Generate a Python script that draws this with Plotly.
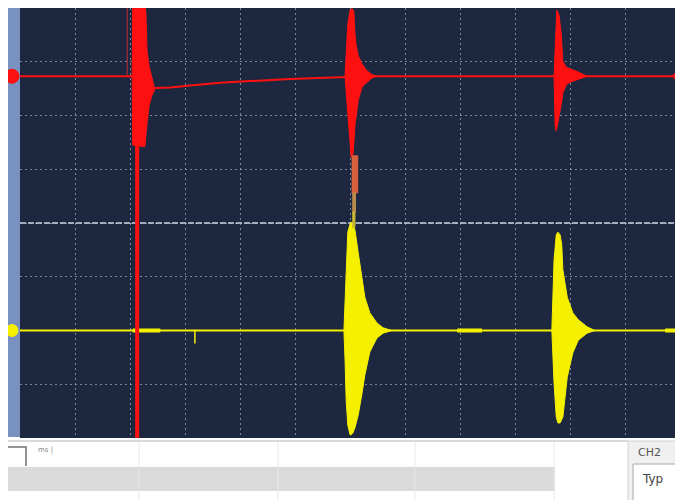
import plotly.graph_objects as go

# ---------------- canvas / layout geometry ----------------
# the page adds an 8 px body margin, so the figure starts at page (8, 8)
PAGE_OFF = 8
W, H = 683 - PAGE_OFF, 500 - PAGE_OFF
ML, MR, MT, MB = 12, 0, 0, 62
PLOT_W = W - ML - MR          # 663 px
PLOT_H = H - MT - MB          # 430 px
X_RANGE = [0, PLOT_W / 55.0]  # 55 px per horizontal division
Y_RANGE = [-4, 4]             # 8 vertical divisions

# ---------------- data (in screen divisions) ----------------
# CH1 (red) baseline with slow recovery after the first event
ch1_line_x = [-0.1, 2.04, 2.45, 2.73, 3.09, 3.64, 4.18, 4.91, 5.82, 6.47, 9.71, 10.33, 11.91]
ch1_line_y = [2.73, 2.73, 2.51, 2.52, 2.56, 2.61, 2.64, 2.68, 2.71, 2.73, 2.73, 2.73, 2.73]

# CH1 burst envelopes
r1_x  = [2.04, 2.05, 2.27, 2.29, 2.31, 2.35, 2.40, 2.45]
r1_up = [2.73, 4.10, 4.10, 3.90, 3.20, 2.90, 2.70, 2.52]
r1_lo = [2.73, 1.45, 1.42, 1.55, 1.85, 2.20, 2.38, 2.48]

r2_x  = [5.91, 5.93, 5.96, 6.00, 6.02, 6.05, 6.07, 6.09, 6.11, 6.15, 6.22, 6.29, 6.40, 6.49]
r2_up = [2.73, 3.22, 3.70, 3.96, 3.98, 3.98, 3.93, 3.52, 3.31, 3.11, 2.96, 2.85, 2.76, 2.73]
r2_lo = [2.73, 2.38, 2.01, 1.49, 1.23, 1.23, 1.49, 1.82, 2.01, 2.29, 2.53, 2.60, 2.70, 2.73]

r3_x  = [9.71, 9.73, 9.75, 9.76, 9.80, 9.84, 9.87, 9.93, 10.00, 10.15, 10.31]
r3_up = [2.73, 3.31, 3.78, 3.96, 3.87, 3.52, 3.01, 2.90, 2.87, 2.81, 2.73]
r3_lo = [2.73, 1.80, 1.71, 1.82, 2.01, 2.20, 2.42, 2.57, 2.62, 2.68, 2.73]

# full-scale CH1 spike and faint pre-trigger line
spike_x = [2.13, 2.13]
spike_y = [4.1, -4.1]
pre_x = [1.95, 1.95]
pre_y = [4.1, 2.73]

# overlap band under the 2nd CH1 burst (x0, x1, top, bottom, colour)
ovl_x0 = [6.03, 6.04, 6.04]
ovl_x1 = [6.14, 6.10, 6.09]
ovl_top = [1.25, 0.56, 0.20]
ovl_bot = [0.56, 0.20, -0.08]
ovl_col = ["#d8603c", "#b98a4a", "#c9b832"]

# CH2 (yellow) baseline
ch2_line_x = [-0.1, 11.91]
ch2_line_y = [-2.0, -2.0]
ch2_thick_x0 = [2.05, 7.95, 11.73]
ch2_thick_x1 = [2.55, 8.40, 11.91]
ch2_glitch_x = [3.18, 3.18]
ch2_glitch_y = [-2.0, -2.24]

# CH2 burst envelopes
y1_x  = [5.89, 5.91, 5.93, 5.96, 6.00, 6.02, 6.05, 6.09, 6.15, 6.22, 6.27, 6.36, 6.49, 6.60, 6.76]
y1_up = [-2.0, -1.43, -0.69, -0.17, -0.02, 0.02, -0.02, -0.13, -0.56, -1.00, -1.38, -1.67, -1.86, -1.95, -2.0]
y1_lo = [-2.0, -2.55, -3.29, -3.76, -3.94, -3.94, -3.91, -3.81, -3.57, -3.16, -2.83, -2.40, -2.14, -2.05, -2.0]

y2_x  = [9.67, 9.69, 9.71, 9.75, 9.78, 9.82, 9.85, 9.87, 9.95, 10.05, 10.15, 10.31, 10.45]
y2_up = [-2.0, -1.43, -0.69, -0.22, -0.17, -0.22, -0.41, -0.87, -1.38, -1.67, -1.80, -1.93, -2.0]
y2_lo = [-2.0, -2.55, -2.98, -3.61, -3.72, -3.72, -3.67, -3.61, -2.87, -2.42, -2.18, -2.05, -2.0]

# channel markers (vertical position of each channel's ground marker)
marker_y = [2.73, -2.0]
marker_col = ["#ff1010", "#f4f000"]

RED = "#ff1010"
YEL = "#f4f000"

fig = go.Figure()


def add_line(x, y, color, width):
    fig.add_trace(go.Scatter(x=x, y=y, mode="lines", line=dict(color=color, width=width),
                             hoverinfo="skip", showlegend=False))


def add_burst(x, up, lo, color):
    fig.add_trace(go.Scatter(x=list(x) + list(x)[::-1], y=list(up) + list(lo)[::-1],
                             mode="lines", fill="toself", fillcolor=color,
                             line=dict(color=color, width=1),
                             hoverinfo="skip", showlegend=False))


# ---- CH2 (yellow) ----
add_line(ch2_line_x, ch2_line_y, YEL, 2)
for a, b in zip(ch2_thick_x0, ch2_thick_x1):
    add_line([a, b], [ch2_line_y[0], ch2_line_y[0]], YEL, 4)
add_line(ch2_glitch_x, ch2_glitch_y, YEL, 1.5)
add_burst(y1_x, y1_up, y1_lo, YEL)
add_burst(y2_x, y2_up, y2_lo, YEL)

# ---- CH1 (red) ----
add_line(ch1_line_x, ch1_line_y, RED, 2)
add_line(pre_x, pre_y, "rgba(255,40,40,0.7)", 1)
add_line(spike_x, spike_y, RED, 4)
add_burst(r1_x, r1_up, r1_lo, RED)
add_burst(r2_x, r2_up, r2_lo, RED)
add_burst(r3_x, r3_up, r3_lo, RED)
for x0, x1, t, b, c in zip(ovl_x0, ovl_x1, ovl_top, ovl_bot, ovl_col):
    add_burst([x0, x1], [t, t], [b, b], c)

# end arrow of CH1
fig.add_trace(go.Scatter(x=[ch1_line_x[-1]], y=[ch1_line_y[-1]], mode="markers",
                         marker=dict(symbol="triangle-right", size=6, color=RED),
                         hoverinfo="skip", showlegend=False))


# page pixel -> paper coordinates (plot area spans page x 20..683, y 8..438)
def px(p):
    return (p - 20) / PLOT_W


def py(p):
    return (438 - p) / PLOT_H


DIV_PX = PLOT_H / (Y_RANGE[1] - Y_RANGE[0])

shapes = [
    # centre horizontal graticule line
    dict(type="line", xref="x", yref="y", x0=X_RANGE[0], x1=X_RANGE[1], y0=0, y1=0,
         line=dict(color="rgba(225,232,242,0.9)", width=1.5, dash="6px,2px"), layer="below"),
    # left blue strip
    dict(type="rect", xref="paper", yref="paper", x0=px(8), x1=px(20), y0=py(437), y1=py(8),
         fillcolor="#7891c0", line=dict(width=0), layer="above"),
]
# channel ground markers on the left edge
for my, mc, r in zip(marker_y, marker_col, [7, 6]):
    shapes.append(dict(type="circle", xref="paper", yref="y",
                       x0=px(12 - r), x1=px(12 + r), y0=my - r / DIV_PX, y1=my + r / DIV_PX,
                       fillcolor=mc, line=dict(color=mc, width=1), layer="above"))

shapes += [
    # bottom panel top rule
    dict(type="line", xref="paper", yref="paper", x0=px(8), x1=px(628), y0=py(441), y1=py(441),
         line=dict(color="#b4b4b4", width=1), layer="above"),
    # grey band
    dict(type="rect", xref="paper", yref="paper", x0=px(8), x1=px(555), y0=py(491), y1=py(467),
         fillcolor="#dadada", line=dict(width=0), layer="above"),
    # bracket at left
    dict(type="path", xref="paper", yref="paper",
         path=f"M {px(8)},{py(447)} L {px(26)},{py(447)} L {px(26)},{py(466)}",
         line=dict(color="#707070", width=1.5), layer="above"),
    # right panel
    dict(type="rect", xref="paper", yref="paper", x0=px(628), x1=px(684), y0=py(501), y1=py(441),
         fillcolor="#f0f0f0", line=dict(color="#d0d0d0", width=1), layer="above"),
    dict(type="rect", xref="paper", yref="paper", x0=px(633), x1=px(690), y0=py(505), y1=py(464),
         fillcolor="#ffffff", line=dict(color="#a8a8a8", width=1), layer="above"),
]
for cx in [139, 278, 415, 554]:
    shapes.append(dict(type="line", xref="paper", yref="paper", x0=px(cx), x1=px(cx),
                       y0=py(500), y1=py(442), line=dict(color="#e8e8e8", width=1), layer="above"))

annotations = [
    dict(xref="paper", yref="paper", x=px(36), y=py(450), text="ms |", showarrow=False,
         xanchor="left", yanchor="middle", font=dict(size=7, color="#888888", family="DejaVu Sans")),
    dict(xref="paper", yref="paper", x=px(636), y=py(452), text="CH2", showarrow=False,
         xanchor="left", yanchor="middle", font=dict(size=11, color="#555555", family="DejaVu Sans")),
    dict(xref="paper", yref="paper", x=px(640), y=py(479), text="Typ", showarrow=False,
         xanchor="left", yanchor="middle", font=dict(size=12, color="#444444", family="DejaVu Sans")),
]

grid_style = dict(showgrid=True, gridcolor="rgba(185,195,215,0.6)", gridwidth=1, griddash="2px,3px",
                  zeroline=False, showticklabels=False, ticks="", showline=False, dtick=1,
                  fixedrange=True)

fig.update_layout(
    width=W, height=H,
    margin=dict(l=ML, r=MR, t=MT, b=MB, pad=0),
    paper_bgcolor="#ffffff",
    plot_bgcolor="#1d2840",
    xaxis=dict(range=X_RANGE, tick0=0, **grid_style),
    yaxis=dict(range=Y_RANGE, tick0=0, **grid_style),
    shapes=shapes,
    annotations=annotations,
    showlegend=False,
)

fig.write_html("out.html")
